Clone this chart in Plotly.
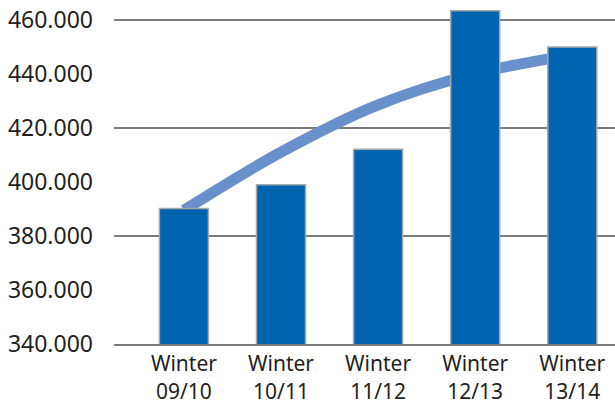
import plotly.graph_objects as go

seasons = ["Winter<br>09/10", "Winter<br>10/11", "Winter<br>11/12", "Winter<br>12/13", "Winter<br>13/14"]
values = [390100, 398900, 412100, 463300, 449900]
trend = [389500, 411000, 428500, 440000, 447000]

BAR_COLOR = "#0064B1"
TREND_COLOR = "#6A90CB"
GRID_COLOR = "#7B7B7B"
TEXT_COLOR = "#231F20"

y_range = [340000, 467300]

fig = go.Figure()

# trend line on the main axis, bars on the overlay axis so they sit on top of it
fig.add_trace(go.Scatter(
    x=seasons,
    y=trend,
    mode="lines",
    line=dict(color=TREND_COLOR, width=11, shape="spline"),
    hoverinfo="skip",
    showlegend=False,
))

fig.add_trace(go.Bar(
    x=seasons,
    y=values,
    yaxis="y2",
    width=0.505,
    marker=dict(color=BAR_COLOR, line=dict(color="#A8A8A8", width=1.5)),
    showlegend=False,
))

fig.update_layout(
    width=615,
    height=405,
    margin=dict(t=0, b=57, l=114, r=0),
    paper_bgcolor="white",
    plot_bgcolor="white",
    separators=",.",
    font=dict(family="Noto Sans, Open Sans, sans-serif", size=22, color=TEXT_COLOR),
    xaxis=dict(
        type="category",
        range=[-0.72, 4.44],
        showgrid=False,
        showline=True,
        linecolor=GRID_COLOR,
        linewidth=2,
        ticks="",
        tickfont=dict(size=21),
    ),
    yaxis=dict(
        range=y_range,
        tick0=340000,
        dtick=20000,
        tickformat=",d",
        showgrid=False,
        zeroline=False,
        ticks="",
        ticklabelstandoff=20,
        tickfont=dict(size=23),
    ),
    # overlay axis: gridlines every 40.000, carries the bars
    yaxis2=dict(
        overlaying="y",
        matches="y",
        range=y_range,
        tick0=340000,
        dtick=40000,
        showgrid=True,
        gridcolor=GRID_COLOR,
        gridwidth=2,
        showticklabels=False,
        zeroline=False,
    ),
)

fig.write_html(
    "out.html",
    config={"displayModeBar": False},
    post_script="document.body.style.margin='0';",
)
